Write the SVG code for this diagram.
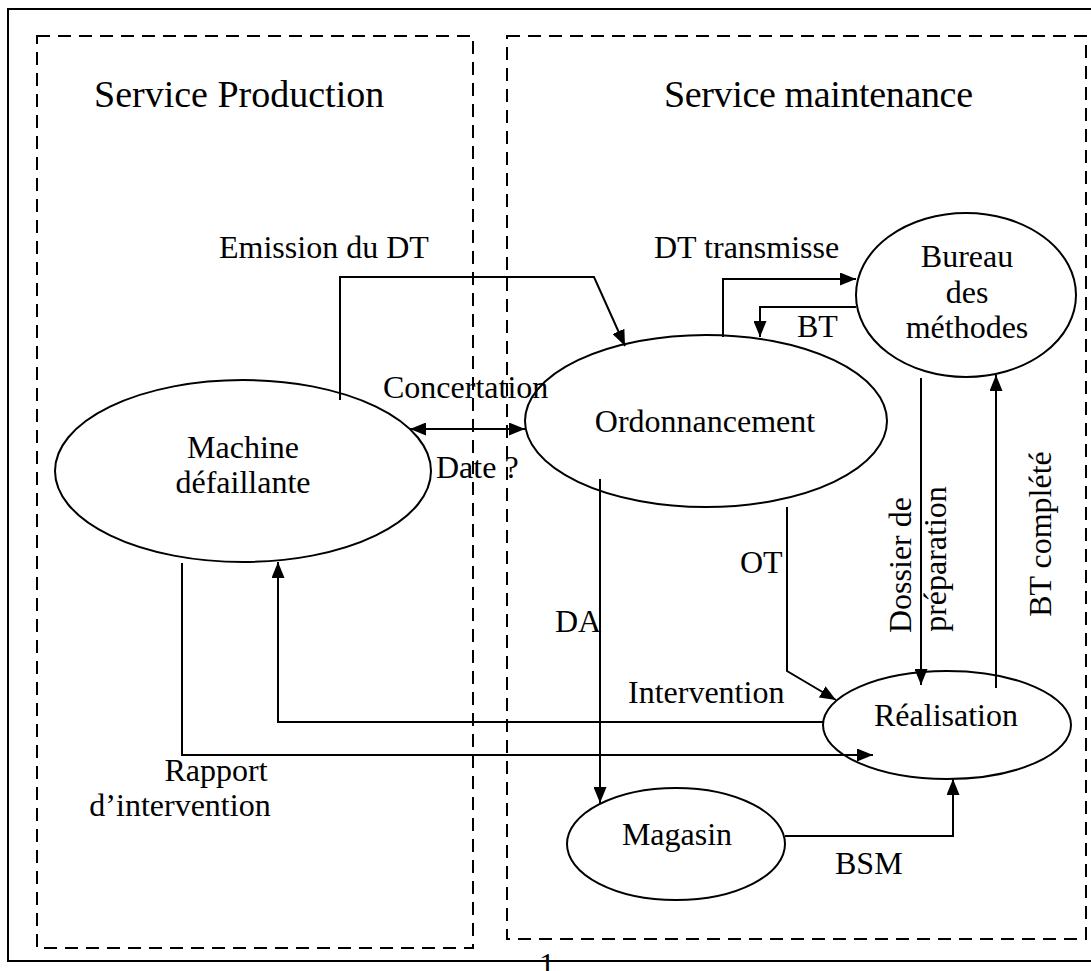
<svg xmlns="http://www.w3.org/2000/svg" width="1091" height="971" viewBox="0 0 1091 971">
<defs>
<style>
text{font-family:"Liberation Serif","Times New Roman",serif;fill:#000}
.t{font-size:38px}
.l{font-size:32px}
.m{text-anchor:middle}
.node{fill:none;stroke:#000;stroke-width:2}
.box{fill:none;stroke:#000;stroke-width:2;stroke-dasharray:13 8}
.c{fill:none;stroke:#000;stroke-width:2}
</style>
<marker id="a" viewBox="0 0 16 13" refX="16" refY="6.5" markerWidth="16" markerHeight="13" markerUnits="userSpaceOnUse" orient="auto-start-reverse">
<path d="M0,0L16,6.5L0,13z" fill="#000"/>
</marker>
</defs>
<rect x="0" y="0" width="1091" height="971" fill="#fff"/>
<rect x="8" y="9" width="1100" height="952" fill="none" stroke="#000" stroke-width="2"/>
<g id="production">
<rect class="box" x="37" y="36" width="436" height="912"/>
<text class="t" x="94" y="107">Service Production</text>
</g>
<g id="maintenance">
<rect class="box" x="507" y="36" width="579" height="903"/>
<text class="t" x="664" y="107" textLength="309">Service maintenance</text>
</g>
<g id="machine">
<ellipse class="node" cx="243" cy="471" rx="188" ry="91"/>
<text class="l m" x="243" y="458">Machine</text>
<text class="l m" x="243" y="493">défaillante</text>
</g>
<g id="ordonnancement">
<ellipse class="node" cx="706" cy="421" rx="181" ry="86"/>
<text class="l m" x="705" y="432">Ordonnancement</text>
</g>
<g id="bureau">
<ellipse class="node" cx="966" cy="295" rx="110" ry="82"/>
<text class="l m" x="967" y="267">Bureau</text>
<text class="l m" x="967" y="303">des</text>
<text class="l m" x="967" y="338">méthodes</text>
</g>
<g id="realisation">
<ellipse class="node" cx="947" cy="725" rx="124" ry="54"/>
<text class="l m" x="946" y="726">Réalisation</text>
</g>
<g id="magasin">
<ellipse class="node" cx="676" cy="844" rx="109" ry="56"/>
<text class="l m" x="677" y="845">Magasin</text>
</g>
<g id="connectors">
<path class="c" d="M340,400V277H594L625,346" marker-end="url(#a)"/>
<path class="c" d="M410,429H525" marker-start="url(#a)" marker-end="url(#a)"/>
<path class="c" d="M723,337V279H856" marker-end="url(#a)"/>
<path class="c" d="M856,307H760V337" marker-end="url(#a)"/>
<path class="c" d="M600,479V803" marker-end="url(#a)"/>
<path class="c" d="M787,507V671L836,700" marker-end="url(#a)"/>
<path class="c" d="M921,378V685" marker-end="url(#a)"/>
<path class="c" d="M996,688V375" marker-end="url(#a)"/>
<path class="c" d="M823,722H278V562" marker-end="url(#a)"/>
<path class="c" d="M182,563V755H873" marker-end="url(#a)"/>
<path class="c" d="M785,836H953V779" marker-end="url(#a)"/>
<text class="l" x="219" y="258">Emission du DT</text>
<text class="l" x="383" y="398">Concertation</text>
<text class="l" x="436" y="478">Date ?</text>
<text class="l" x="654" y="258">DT transmisse</text>
<text class="l" x="797" y="337">BT</text>
<text class="l" x="740" y="573">OT</text>
<text class="l" x="555" y="632">DA</text>
<text class="l" x="628" y="703">Intervention</text>
<text class="l m" x="216" y="781">Rapport</text>
<text class="l m" x="180" y="816">d’intervention</text>
<text class="l" x="835" y="874">BSM</text>
<text class="l m" transform="translate(911,565) rotate(-90)">Dossier de</text>
<text class="l m" transform="translate(946,559) rotate(-90)">préparation</text>
<text class="l m" transform="translate(1051,534) rotate(-90)">BT complété</text>
<text class="l m" x="547" y="975">1</text>
</g>
</svg>
